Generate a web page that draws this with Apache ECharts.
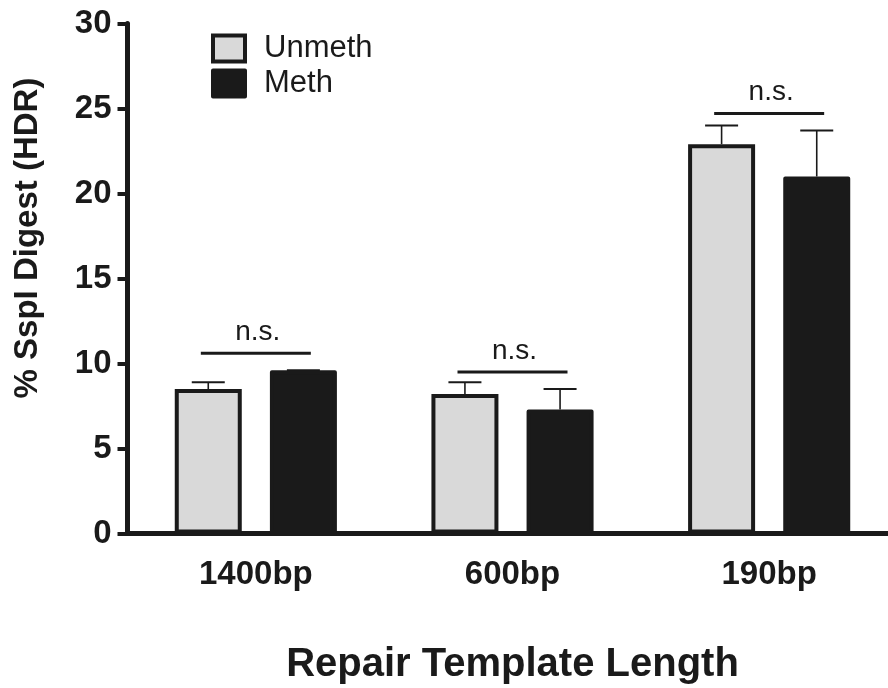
<!DOCTYPE html>
<html>
<head>
<meta charset="utf-8">
<script src="https://cdn.jsdelivr.net/npm/echarts@6/dist/echarts.min.js"></script>
<style>
  html, body { margin: 0; padding: 0; background: #ffffff; }
  #chart { width: 888px; height: 688px; }
</style>
</head>
<body>
<div id="chart"></div>
<script>
// Repair template lengths (x categories)
const categories = ['1400bp', '600bp', '190bp'];
// Mean % SspI digest and top of the SEM bar, per template
const unmethMean  = [8.5, 8.2, 22.9];
const unmethUpper = [8.9, 8.9, 24.0];
const methMean    = [9.6, 7.3, 21.0];
const methUpper   = [9.6, 8.5, 23.7];
// Significance brackets: label and the height they sit at
const sigLabels = ['n.s.', 'n.s.', 'n.s.'];
const sigLevels = [10.6, 9.5, 24.7];
// Y axis range
const yMin = 0, yMax = 30, yStep = 5;

const INK = '#1a1a1a';
const GREY = '#d9d9d9';
const FONT = '"Liberation Sans", Arial, Helvetica, sans-serif';
const BAR_W = 67;
const BAR_GAP = 0.42;
const BAR_SHIFT = BAR_W * (1 + BAR_GAP) / 2;

const chart = echarts.init(document.getElementById('chart'), null, { renderer: 'canvas' });

// SEM whisker drawn above a bar: stem plus a cap
function errorBar(shift) {
  return function (params, api) {
    const idx = api.value(0);
    const top = api.coord([idx, api.value(1)]);
    const hi = api.coord([idx, api.value(2)]);
    const x = top[0] + shift;
    return {
      type: 'group',
      children: [
        { type: 'line', shape: { x1: x, y1: top[1], x2: x, y2: hi[1] },
          style: { stroke: INK, lineWidth: 1.6 } },
        { type: 'line', shape: { x1: x - 16.5, y1: hi[1], x2: x + 16.5, y2: hi[1] },
          style: { stroke: INK, lineWidth: 2 } }
      ]
    };
  };
}

const option = {
  backgroundColor: '#ffffff',
  animation: false,
  textStyle: { fontFamily: FONT },
  grid: {
    left: 127.5, top: 23.5, height: 510, width: 770,
    containLabel: false, outerBoundsMode: 'none'
  },
  legend: {
    orient: 'vertical',
    left: 211,
    top: 33,
    padding: 0,
    itemWidth: 32,
    itemHeight: 26,
    itemGap: 4,
    icon: 'rect',
    textStyle: { fontSize: 31, color: INK, fontFamily: FONT, padding: [0, 0, 0, 14] },
    data: [
      { name: 'Unmeth', itemStyle: { color: GREY, borderColor: INK, borderWidth: 4 } },
      { name: 'Meth', itemStyle: { color: INK, borderColor: INK, borderWidth: 4 } }
    ]
  },
  xAxis: {
    type: 'category',
    data: categories,
    name: 'Repair Template Length',
    nameLocation: 'middle',
    nameGap: 111,
    nameTextStyle: { fontSize: 40, fontWeight: 'bold', color: INK, fontFamily: FONT },
    axisLine: { lineStyle: { color: INK, width: 5 } },
    axisTick: { alignWithLabel: true, length: 14, lineStyle: { color: INK, width: 5, cap: 'round' } },
    axisLabel: { fontSize: 33, fontWeight: 'bold', color: INK, margin: 25, fontFamily: FONT },
    splitLine: { show: false }
  },
  yAxis: {
    type: 'value',
    min: yMin,
    max: yMax,
    interval: yStep,
    axisLine: { show: true, lineStyle: { color: INK, width: 5 } },
    axisTick: { show: true, length: 10, lineStyle: { color: INK, width: 4 } },
    axisLabel: { fontSize: 33, fontWeight: 'bold', color: INK, margin: 16, fontFamily: FONT },
    splitLine: { show: false }
  },
  graphic: [
    {
      type: 'text',
      x: 28,
      y: 238,
      rotation: Math.PI / 2,
      style: {
        text: '% SspI Digest (HDR)',
        font: 'bold 33px ' + FONT,
        fill: INK,
        textAlign: 'center',
        textVerticalAlign: 'middle'
      }
    }
  ],
  series: [
    {
      name: 'Unmeth',
      type: 'bar',
      data: unmethMean,
      barWidth: BAR_W,
      barGap: (BAR_GAP * 100) + '%',
      itemStyle: { color: GREY, borderColor: INK, borderWidth: 4 },
      z: 2
    },
    {
      name: 'Meth',
      type: 'bar',
      data: methMean,
      barWidth: BAR_W,
      itemStyle: { color: INK, borderColor: INK, borderWidth: 4, borderJoin: 'round' },
      z: 2
    },
    {
      name: 'Unmeth SEM',
      type: 'custom',
      renderItem: errorBar(-BAR_SHIFT),
      data: unmethMean.map((v, i) => [i, v, unmethUpper[i]]),
      z: 3,
      silent: true
    },
    {
      name: 'Meth SEM',
      type: 'custom',
      renderItem: errorBar(BAR_SHIFT),
      data: methMean.map((v, i) => [i, v, methUpper[i]]),
      z: 1,
      silent: true
    },
    {
      name: 'Significance',
      type: 'custom',
      silent: true,
      z: 3,
      data: sigLevels.map((v, i) => [i, v]),
      renderItem: function (params, api) {
        const c = api.coord([api.value(0), api.value(1)]);
        return {
          type: 'group',
          children: [
            { type: 'line', shape: { x1: c[0] - 55, y1: c[1], x2: c[0] + 55, y2: c[1] },
              style: { stroke: INK, lineWidth: 3 } },
            { type: 'text', x: c[0] + 2, y: c[1] - 7,
              style: { text: sigLabels[params.dataIndex], font: '28px ' + FONT, fill: INK,
                       textAlign: 'center', textVerticalAlign: 'bottom' } }
          ]
        };
      }
    }
  ]
};

chart.setOption(option);
</script>
</body>
</html>
